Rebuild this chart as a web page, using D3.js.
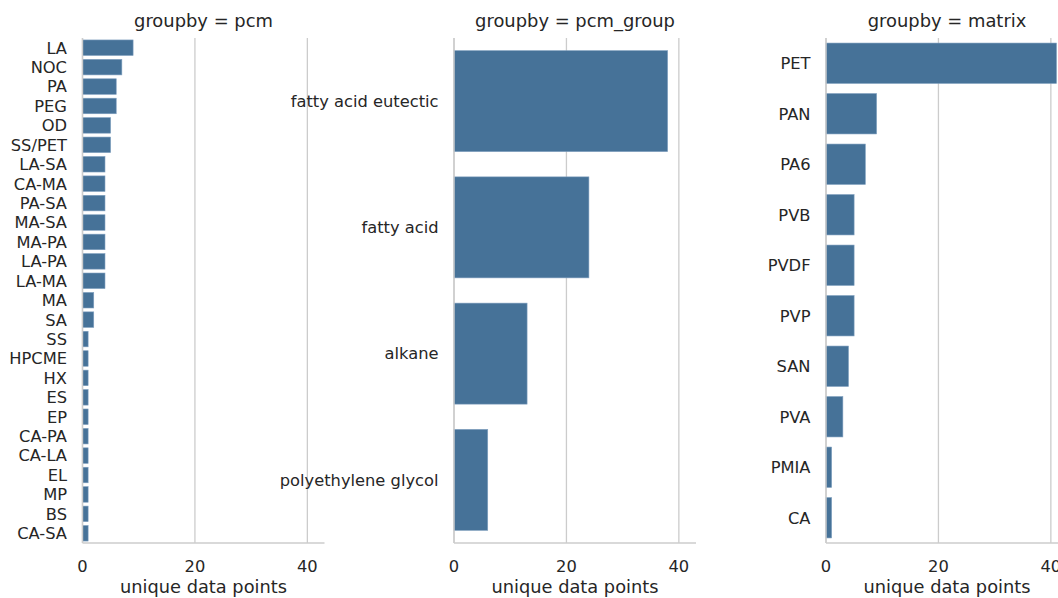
<!DOCTYPE html>
<html><head><meta charset="utf-8">
<script src="https://cdn.jsdelivr.net/npm/d3@7"></script>
<style>
body{margin:0;background:#fff;}
svg{display:block;}
text{font-family:"DejaVu Sans",sans-serif;fill:#262626;}
</style></head>
<body><svg id="chart" width="1058" height="598"></svg>
<script>
const pcmCategories = ["LA","NOC","PA","PEG","OD","SS/PET","LA-SA","CA-MA","PA-SA","MA-SA","MA-PA","LA-PA","LA-MA","MA","SA","SS","HPCME","HX","ES","EP","CA-PA","CA-LA","EL","MP","BS","CA-SA"];
const pcmValues = [9,7,6,6,5,5,4,4,4,4,4,4,4,2,2,1,1,1,1,1,1,1,1,1,1,1];
const groupCategories = ["fatty acid eutectic","fatty acid","alkane","polyethylene glycol"];
const groupValues = [38,24,13,6];
const matrixCategories = ["PET","PAN","PA6","PVB","PVDF","PVP","SAN","PVA","PMIA","CA"];
const matrixValues = [41,9,7,5,5,5,4,3,1,1];
const panelTitles = ["groupby = pcm","groupby = pcm_group","groupby = matrix"];
const xTicks = [0,20,40];
const xLabel = "unique data points";

const panels = [
  {title: panelTitles[0], cats: pcmCategories, vals: pcmValues, left: 82.5},
  {title: panelTitles[1], cats: groupCategories, vals: groupValues, left: 454},
  {title: panelTitles[2], cats: matrixCategories, vals: matrixValues, left: 826}
];

const svg = d3.select("#chart");
const plotTop = 38, plotH = 505, plotW = 242;
const maxV = d3.max([...pcmValues, ...groupValues, ...matrixValues]);
const x = d3.scaleLinear().domain([0, maxV * 1.05]).range([0, plotW]);
const gridColor = "#cccccc";

panels.forEach(p => {
  const g = svg.append("g").attr("transform", `translate(${p.left},${plotTop})`);
  const y = d3.scaleBand().domain(p.cats).range([0, plotH]).paddingInner(0.2).paddingOuter(0.1);
  g.selectAll("line.grid").data(xTicks).enter().append("line")
    .attr("x1", d => x(d)).attr("x2", d => x(d))
    .attr("y1", 0).attr("y2", plotH)
    .attr("stroke", gridColor).attr("stroke-width", 1.3);
  g.selectAll("rect").data(p.cats).enter().append("rect")
    .attr("x", x(0))
    .attr("y", d => y(d))
    .attr("width", (d, i) => x(p.vals[i]) - x(0))
    .attr("height", y.bandwidth())
    .attr("fill", "#467298")
    .attr("stroke", "#7f9fbf").attr("stroke-width", 0.6);
  g.append("line").attr("x1", 0).attr("x2", 0).attr("y1", 0).attr("y2", plotH)
    .attr("stroke", gridColor).attr("stroke-width", 1.4);
  g.append("line").attr("x1", 0).attr("x2", plotW).attr("y1", plotH).attr("y2", plotH)
    .attr("stroke", gridColor).attr("stroke-width", 1.4);
  g.selectAll("text.ylab").data(p.cats).enter().append("text")
    .attr("x", -15.5).attr("y", d => y(d) + y.bandwidth() / 2)
    .attr("dy", "0.36em")
    .attr("text-anchor", "end")
    .style("font-size", "16.3px")
    .text(d => d);
  g.selectAll("text.xlab").data(xTicks).enter().append("text")
    .attr("x", d => x(d)).attr("y", plotH + 29)
    .attr("text-anchor", "middle")
    .style("font-size", "16.3px")
    .text(d => d);
  g.append("text").attr("x", plotW / 2).attr("y", plotH + 50)
    .attr("text-anchor", "middle").style("font-size", "17.8px").text(xLabel);
  g.append("text").attr("x", plotW / 2).attr("y", -11)
    .attr("text-anchor", "middle").style("font-size", "17.9px").text(p.title);
});
</script></body></html>
